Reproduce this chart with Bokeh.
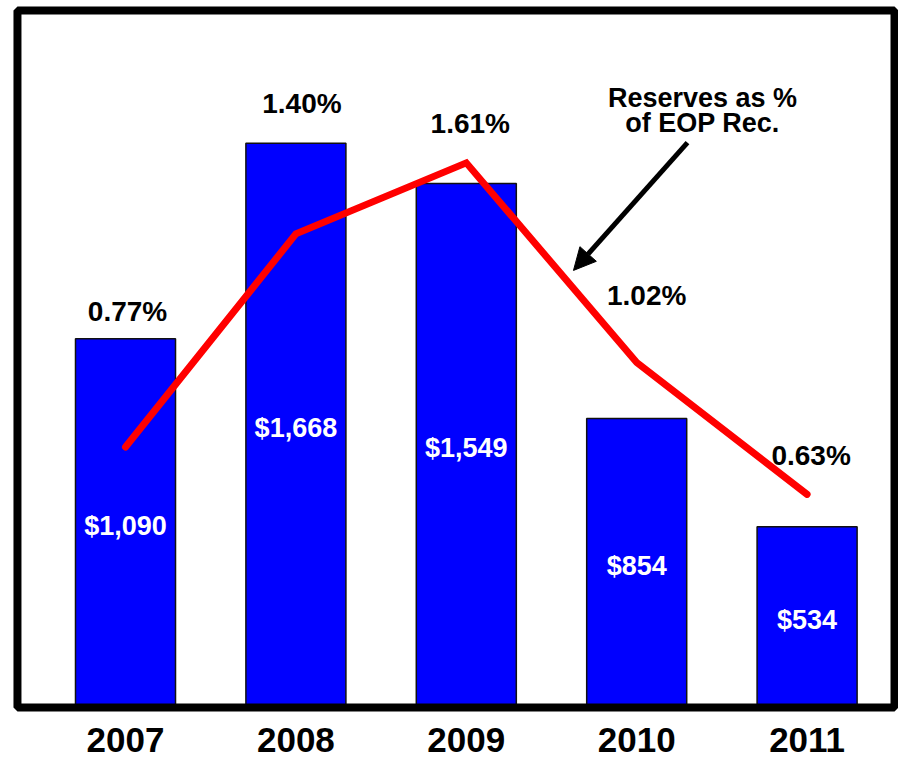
from bokeh.plotting import figure
from bokeh.models import Range1d, ColumnDataSource, Arrow, NormalHead, BoxAnnotation
from bokeh.core.properties import value
from bokeh.embed import file_html
from bokeh.resources import INLINE

# ---- data ----
years = ["2007", "2008", "2009", "2010", "2011"]
reserves = [1090, 1668, 1549, 854, 534]
reserve_labels = ["$1,090", "$1,668", "$1,549", "$854", "$534"]
pct = [0.77, 1.40, 1.61, 1.02, 0.63]
pct_labels = ["0.77%", "1.40%", "1.61%", "1.02%", "0.63%"]

# label anchor positions (annotation placement, in % units / px offsets)
pct_label_y = [1.171, 1.784, 1.726, 1.219, 0.745]
pct_label_dx = [2, 6, 4, 10, 4]

idx = list(range(len(years)))

SANS = "Liberation Sans"

# plot area of the value axis
X_MIN, X_MAX = -0.634, 4.513
Y_MAX = 2060
# full canvas ranges (the framed plot area plus the year-label strip below it)
p = figure(width=898, height=759, output_backend="svg", toolbar_location=None,
           x_range=Range1d(-0.7336, 4.5364), y_range=Range1d(-153.7, 2089.9),
           min_border=0)
p.extra_y_ranges = {"pct": Range1d(-0.1537, 2.0899)}

p.outline_line_color = None
p.xgrid.visible = False
p.ygrid.visible = False
p.xaxis.visible = False
p.yaxis.visible = False
p.background_fill_color = "white"
p.border_fill_color = "white"

bar_src = ColumnDataSource(dict(x=idx, top=reserves, lab=reserve_labels,
                                mid=[v / 2 for v in reserves]))
p.vbar(x="x", top="top", width=0.587, bottom=0, source=bar_src,
       fill_color="#0000FF", line_color="#111111", line_width=1.5)

p.text(x="x", y="mid", text="lab", source=bar_src, text_color="white",
       text_font=value(SANS), text_font_style="bold", text_font_size="27px",
       text_align="center", text_baseline="middle", y_offset=3)

line_src = ColumnDataSource(dict(x=idx, y=pct))
p.line(x="x", y="y", source=line_src, y_range_name="pct", line_color="#FF0000",
       line_width=7, line_cap="round", line_join="miter")

lab_src = ColumnDataSource(dict(x=idx, y=pct_label_y, lab=pct_labels, dx=pct_label_dx))
p.text(x="x", y="y", text="lab", source=lab_src, y_range_name="pct", x_offset="dx",
       text_color="black", text_font=value(SANS), text_font_style="bold",
       text_font_size="28px", text_align="center", text_baseline="middle")

# year (category) labels under the frame
yr_src = ColumnDataSource(dict(x=idx, y=[-94.6] * len(idx), lab=years))
p.text(x="x", y="y", text="lab", source=yr_src, text_color="black",
       text_font=value(SANS), text_font_style="bold", text_font_size="35px",
       text_align="center", text_baseline="middle")

# thick black frame round the plot area
p.add_layout(BoxAnnotation(left=X_MIN, right=X_MAX, bottom=0, top=Y_MAX,
                           fill_color=None, fill_alpha=0, line_color="black",
                           line_width=8, line_alpha=1))

# annotation
p.text(x=[3.386, 3.386], y=[1803, 1729], text=["Reserves as %", "of EOP Rec."],
       text_color="black", text_font=value(SANS), text_font_style="bold",
       text_font_size="27px", text_align="center", text_baseline="middle")
p.add_layout(Arrow(end=NormalHead(size=22, fill_color="black", line_color="black"),
                   x_start=3.298, y_start=1670, x_end=2.629, y_end=1292,
                   line_color="black", line_width=5))

open("out.html", "w").write(file_html(p, INLINE))
